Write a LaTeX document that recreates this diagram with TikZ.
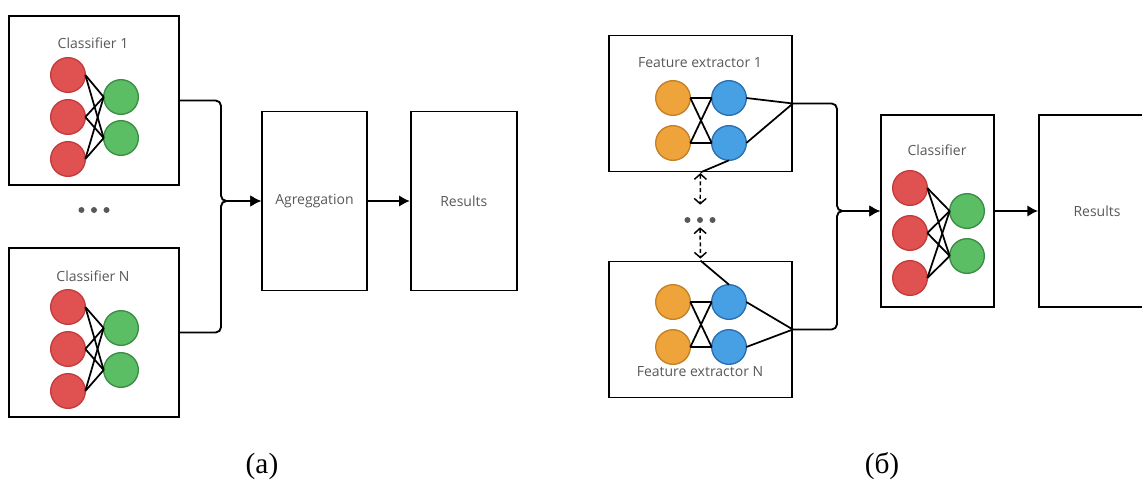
\documentclass[tikz,border=0pt]{standalone}
\usepackage{fontspec}
\setmainfont{Liberation Serif}
\setsansfont{Open Sans}
\usetikzlibrary{arrows.meta,positioning}
\definecolor{txtgray}{RGB}{88,88,88}
\definecolor{redfill}{RGB}{224,82,82}
\definecolor{redline}{RGB}{196,58,58}
\definecolor{greenfill}{RGB}{92,190,100}
\definecolor{greenline}{RGB}{58,140,68}
\definecolor{orangefill}{RGB}{238,164,58}
\definecolor{orangeline}{RGB}{196,128,36}
\definecolor{bluefill}{RGB}{72,160,228}
\definecolor{blueline}{RGB}{40,110,178}
\tikzset{%
	box/.style      = {draw, rectangle, line width=1.3pt, inner sep=0pt}, % Block
	boxtext/.style  = {font=\sffamily\fontsize{10.5}{12}\selectfont, text=txtgray},
	neuron/.style   = {circle, line width=1pt, minimum size=26pt, inner sep=0pt, outer sep=0pt},
	rednode/.style  = {neuron, fill=redfill, draw=redline},
	greennode/.style= {neuron, fill=greenfill, draw=greenline},
	orangenode/.style={neuron, fill=orangefill, draw=orangeline},
	bluenode/.style = {neuron, fill=bluefill, draw=blueline},
	link/.style     = {line width=1.3pt},
	dot/.style      = {circle, fill=txtgray, minimum size=4.5pt, inner sep=0pt},
	arrow/.style    = {line width=1.4pt, -{Latex[length=8pt,width=8.5pt]}, rounded corners=4pt},
	dasharrow/.style= {line width=1.1pt, dash pattern=on 3pt off 2pt,
		{Straight Barb[length=4pt,width=9pt,line width=1.1pt]}-{Straight Barb[length=4pt,width=9pt,line width=1.1pt]}},
	caption/.style  = {font=\fontsize{22}{26}\selectfont},
}
\begin{document}
\begin{tikzpicture}[x=0.75pt, y=-0.75pt]
	\useasboundingbox (0,0) rectangle (1142,485);
	\clip (0,0) rectangle (1142,485);
	% (a) ensemble of classifiers
	\node[box, minimum width=127.5pt, minimum height=126.75pt] (cls1) at (94,100.5) {};
	\node[boxtext] (cls1t) at (93,43) {Classifier 1};
	\node[rednode] (c1r1) at (68,75) {};
	\node[rednode] (c1r2) at (68,117) {};
	\node[rednode] (c1r3) at (68,159) {};
	\node[greennode] (c1g1) at (121,97) {};
	\node[greennode] (c1g2) at (121,138) {};
	\node[box, minimum width=127.5pt, minimum height=126.75pt] (clsN) at (94,332.5) {};
	\node[boxtext] (clsNt) at (93,276) {Classifier N};
	\node[rednode] (cNr1) at (68,307) {};
	\node[rednode] (cNr2) at (68,349) {};
	\node[rednode] (cNr3) at (68,391) {};
	\node[greennode] (cNg1) at (121,328) {};
	\node[greennode] (cNg2) at (121,370) {};
	\foreach \i in {1,2,3} \foreach \j in {1,2} {
		\draw[link] (c1r\i.east) -- (c1g\j.west);
		\draw[link] (cNr\i.east) -- (cNg\j.west);
	}
	\node[dot] (ldot2) at (94,210) {};
	\node[dot, left=4.5pt of ldot2] (ldot1) {};
	\node[dot, right=4.5pt of ldot2] (ldot3) {};
	\node[box, boxtext, minimum width=78.75pt, minimum height=134.25pt] (agg) at (314.5,201) {Agreggation};
	\node[box, boxtext, minimum width=79.5pt, minimum height=134.25pt, right=31.5pt of agg] (resA) {Results};
	\coordinate (ja) at (221,201);
	\draw[arrow] (cls1.east) -| (ja) -- (agg.west);
	\draw[arrow] (clsN.east) -| (ja) -- (agg.west);
	\draw[arrow] (agg) -- (resA);
	\node[caption] (capA) at (262,466) {(а)};
	% (b) feature extractors and one classifier
	\node[box, minimum width=137.25pt, minimum height=102pt] (fe1) at (700.5,103.5) {};
	\node[boxtext] (fe1t) at (700,63) {Feature extractor 1};
	\node[orangenode] (fe1o1) at (673,98) {};
	\node[orangenode] (fe1o2) at (673,143) {};
	\node[bluenode] (fe1b1) at (729,98) {};
	\node[bluenode] (fe1b2) at (729,143) {};
	\node[box, minimum width=137.25pt, minimum height=102pt] (feN) at (700.5,329.5) {};
	\node[boxtext] (feNt) at (700,372) {Feature extractor N};
	\node[orangenode] (feNo1) at (673,302) {};
	\node[orangenode] (feNo2) at (673,347) {};
	\node[bluenode] (feNb1) at (729,302) {};
	\node[bluenode] (feNb2) at (729,347) {};
	\foreach \i in {1,2} {
		\foreach \j in {1,2} {
			\draw[link] (fe1o\i.east) -- (fe1b\j.west);
			\draw[link] (feNo\i.east) -- (feNb\j.west);
		}
		\draw[link] (fe1b\i.east) -- (fe1.east);
		\draw[link] (feNb\i.east) -- (feN.east);
	}
	\draw[link] (fe1b2.south) -- (fe1.south);
	\draw[link] (feNb1.north) -- (feN.north);
	\node[dot] (rdot2) at (700,220) {};
	\node[dot, left=4.5pt of rdot2] (rdot1) {};
	\node[dot, right=4.5pt of rdot2] (rdot3) {};
	\draw[dasharrow, shorten <=0.5pt, shorten >=9pt] (fe1.south) -- (rdot2.north);
	\draw[dasharrow, shorten <=3pt, shorten >=1.5pt] (rdot2.south) -- (feN.north);
	\node[box, minimum width=84.75pt, minimum height=144pt] (clsB) at (937.5,211) {};
	\node[boxtext] (clsBt) at (937,150) {Classifier};
	\node[rednode] (cBr1) at (910,188) {};
	\node[rednode] (cBr2) at (910,233) {};
	\node[rednode] (cBr3) at (910,278) {};
	\node[greennode] (cBg1) at (967,211) {};
	\node[greennode] (cBg2) at (967,256) {};
	\foreach \i in {1,2,3} \foreach \j in {1,2}
		\draw[link] (cBr\i.east) -- (cBg\j.west);
	\node[box, boxtext, minimum width=87pt, minimum height=144pt] (resB) at (1097,211) {Results};
	\coordinate (jb) at (837,211);
	\draw[arrow] (fe1.east) -| (jb) -- (clsB.west);
	\draw[arrow] (feN.east) -| (jb) -- (clsB.west);
	\draw[arrow] (clsB) -- (resB);
	\node[caption] (capB) at (882,466) {(б)};
\end{tikzpicture}
\end{document}
